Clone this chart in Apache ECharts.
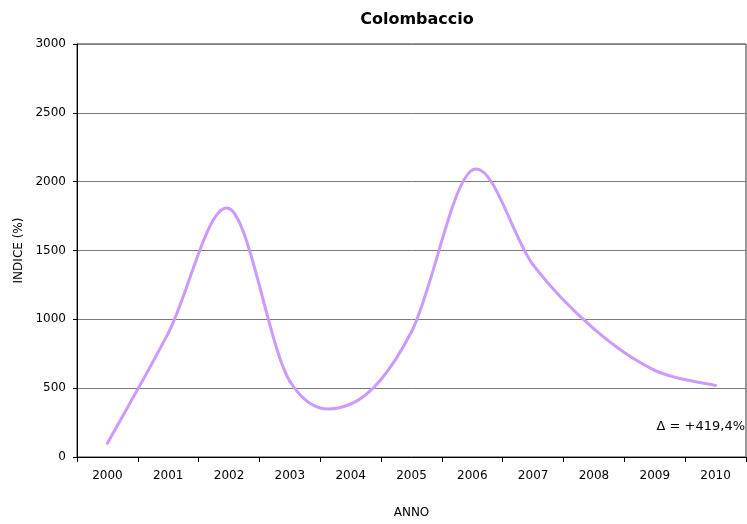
<!DOCTYPE html>
<html>
<head>
<meta charset="utf-8">
<script src="https://cdn.jsdelivr.net/npm/echarts@6/dist/echarts.min.js"></script>
<style>
  html, body { margin: 0; padding: 0; background: #fff; }
  #chart { width: 747px; height: 524px; }
</style>
</head>
<body>
<div id="chart"></div>
<script>
// Annual index for the wood pigeon (Colombaccio), base year 2000 = 100
const years = ['2000', '2001', '2002', '2003', '2004', '2005', '2006', '2007', '2008', '2009', '2010'];
const indice = [100, 900, 1805, 550, 385, 910, 2085, 1395, 930, 630, 519.4];
const yTicks = { min: 0, max: 3000, step: 500 };
const deltaLabel = 'Δ = +419,4%';

const FONT = 'DejaVu Sans, Verdana, sans-serif';
const LINE_COLOR = '#cc99ff';
const chart = echarts.init(document.getElementById('chart'), null, { renderer: 'canvas' });

// Each item draws the smoothed (Catmull-Rom) segment from its point to the next one,
// with every point placed through the chart's own axes.
function renderSegment(params, api) {
  const i = params.dataIndex;
  const n = indice.length;
  if (i >= n - 1) return null;
  const clamp = k => Math.max(0, Math.min(n - 1, k));
  const pt = k => api.coord([clamp(k), indice[clamp(k)]]);
  const p0 = pt(i - 1), p1 = pt(i), p2 = pt(i + 1), p3 = pt(i + 2);
  return {
    type: 'bezierCurve',
    shape: {
      x1: p1[0], y1: p1[1],
      x2: p2[0], y2: p2[1],
      cpx1: p1[0] + (p2[0] - p0[0]) / 6, cpy1: p1[1] + (p2[1] - p0[1]) / 6,
      cpx2: p2[0] - (p3[0] - p1[0]) / 6, cpy2: p2[1] - (p3[1] - p1[1]) / 6
    },
    style: { stroke: LINE_COLOR, lineWidth: 3, fill: null, lineCap: 'round' }
  };
}

chart.setOption({
  animation: false,
  backgroundColor: '#ffffff',
  title: {
    text: 'Colombaccio',
    left: 412, top: 7, textAlign: 'center',
    textStyle: { fontFamily: FONT, fontSize: 16, fontWeight: 'bold', color: '#000' }
  },
  grid: {
    left: 77, right: 1, top: 44, bottom: 66,
    show: true, borderColor: '#333', borderWidth: 1
  },
  xAxis: {
    type: 'category',
    data: years,
    boundaryGap: true,
    name: 'ANNO',
    nameLocation: 'middle',
    nameGap: 50,
    nameTextStyle: { fontFamily: FONT, fontSize: 12, color: '#000' },
    axisLine: { lineStyle: { color: '#000', width: 1 } },
    axisTick: { show: true, interval: 0, length: 5, lineStyle: { color: '#000' } },
    axisLabel: { fontFamily: FONT, fontSize: 12, color: '#000', margin: 13, interval: 0 },
    splitLine: { show: false }
  },
  yAxis: {
    type: 'value',
    min: yTicks.min, max: yTicks.max, interval: yTicks.step,
    name: 'INDICE (%)',
    nameLocation: 'middle',
    nameGap: 47,
    nameTextStyle: { fontFamily: FONT, fontSize: 12, color: '#000' },
    axisLine: { show: true, lineStyle: { color: '#000', width: 1 } },
    axisTick: { show: true, length: 4, lineStyle: { color: '#000' } },
    axisLabel: {
      fontFamily: FONT, fontSize: 12, color: '#000', margin: 11,
      formatter: v => String(v)
    },
    splitLine: { show: true, lineStyle: { color: '#7a7a7a', width: 1 } }
  },
  graphic: [{
    type: 'text',
    right: 2, top: 420,
    style: { text: deltaLabel, font: '13px ' + FONT, fill: '#000' }
  }],
  series: [{
    type: 'custom',
    coordinateSystem: 'cartesian2d',
    renderItem: renderSegment,
    encode: { x: 0, y: 1 },
    data: indice.map((v, i) => [i, v])
  }]
});
</script>
</body>
</html>
